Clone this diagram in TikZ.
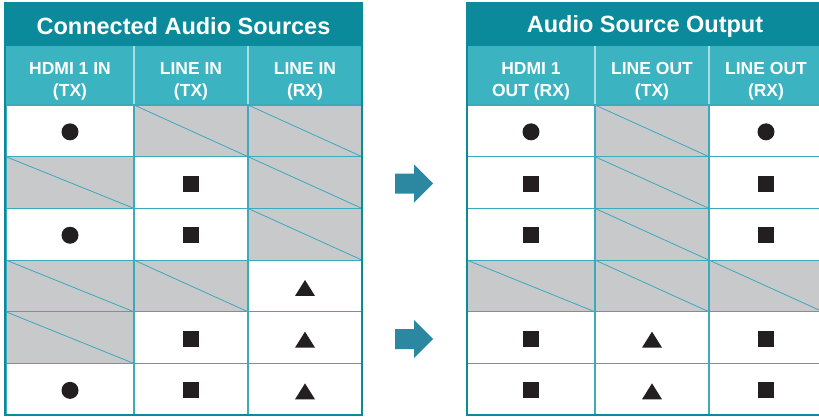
\documentclass[tikz,border=0pt]{standalone}
\usepackage{fontspec}
\setmainfont{Liberation Sans}
\usepackage{tikz}
\usetikzlibrary{positioning, calc}
\definecolor{titleteal}{RGB}{10,138,154}
\definecolor{headteal}{RGB}{59,179,193}
\definecolor{gridteal}{RGB}{58,170,188}
\definecolor{blankgray}{RGB}{200,201,203}
\definecolor{arrowteal}{RGB}{44,136,160}
\definecolor{markblack}{RGB}{35,31,32}

\tikzset{
  cell/.style={draw=gridteal, line width=1.2pt, minimum width=114pt, minimum height=51.7pt, inner sep=0pt, fill=white},
  wide/.style={minimum width=128pt},
  blank/.style={fill=blankgray, path picture={\draw [gridteal, line width=0.8pt] (path picture bounding box.north west) -- (path picture bounding box.south east);}},
  dot/.style={path picture={\fill [markblack] ([yshift=-1pt]path picture bounding box.center) circle (8.5pt);}},
  sq/.style={path picture={\fill [markblack] ([shift={(-8pt,-9pt)}]path picture bounding box.center) rectangle ([shift={(8pt,7pt)}]path picture bounding box.center);}},
  tri/.style={path picture={\fill [markblack] ([shift={(-10pt,-10pt)}]path picture bounding box.center) -- ([shift={(10pt,-10pt)}]path picture bounding box.center) -- ([shift={(0pt,6pt)}]path picture bounding box.center) -- cycle;}},
  headtext/.style={text=white, font=\fontsize{17.5}{21.7}\selectfont\bfseries, align=center},
  titletext/.style={text=white, font=\fontsize{23.5}{27}\selectfont\bfseries}
}

\begin{document}
\begin{tikzpicture}[x=1pt, y=-1pt]
    \useasboundingbox (0,0) rectangle (819,417);
    \clip (0,0) rectangle (819,417);

    % title and column heads
    \fill [titleteal] (5,3) rectangle (362,46);
    \fill [headteal] (5,46) rectangle (362,105);
    \fill [titleteal] (467,3) rectangle (825,46);
    \fill [headteal] (467,46) rectangle (825,105);
    \draw [white!55!headteal, line width=1.2pt] (134,46) -- (134,105) (248,46) -- (248,105);
    \draw [white!55!headteal, line width=1.2pt] (595,46) -- (595,105) (709,46) -- (709,105);

    \node [titletext] (tL) at (183.5,26) { Connected Audio Sources };
    \node [titletext] (tR) at (645,26) { Audio Source Output };

    \node [headtext] (hL1) at (70,81) { HDMI 1 IN\\(TX) };
    \node [headtext] (hL2) at (191,81) { LINE IN\\(TX) };
    \node [headtext] (hL3) at (305,81) { LINE IN\\(RX) };
    \node [headtext] (hR1) at (531,81) { HDMI 1\\OUT (RX) };
    \node [headtext] (hR2) at (652,81) { LINE OUT\\(TX) };
    \node [headtext] (hR3) at (766,81) { LINE OUT\\(RX) };

    % connected sources
    \foreach \r/\a/\b/\c in {1/dot/blank/blank, 2/blank/sq/blank, 3/dot/sq/blank,
                             4/blank/blank/tri, 5/blank/sq/tri, 6/dot/sq/tri} {
        \node [cell, wide, \a] (L\r1) at (70, {79.15+51.7*\r}) {};
        \node [cell, \b] (L\r2) at (191, {79.15+51.7*\r}) {};
        \node [cell, \c] (L\r3) at (305, {79.15+51.7*\r}) {};
    }

    % resulting output
    \foreach \r/\a/\b/\c in {1/dot/blank/dot, 2/sq/blank/sq, 3/sq/blank/sq,
                             4/blank/blank/blank, 5/sq/tri/sq, 6/sq/tri/sq} {
        \node [cell, wide, \a] (R\r1) at (531, {79.15+51.7*\r}) {};
        \node [cell, \b] (R\r2) at (652, {79.15+51.7*\r}) {};
        \node [cell, \c] (R\r3) at (766, {79.15+51.7*\r}) {};
    }

    \draw [titleteal, line width=2.5pt] (5,3) rectangle (362,415);
    \draw [titleteal, line width=2.5pt] (467,3) rectangle (825,415);

    \foreach \y in {183.5, 339} {
        \fill [arrowteal] (395,{\y-10}) -- (414,{\y-10}) -- (414,{\y-19}) -- (433,\y)
            -- (414,{\y+19}) -- (414,{\y+10}) -- (395,{\y+10}) -- cycle;
    }
\end{tikzpicture}
\end{document}
